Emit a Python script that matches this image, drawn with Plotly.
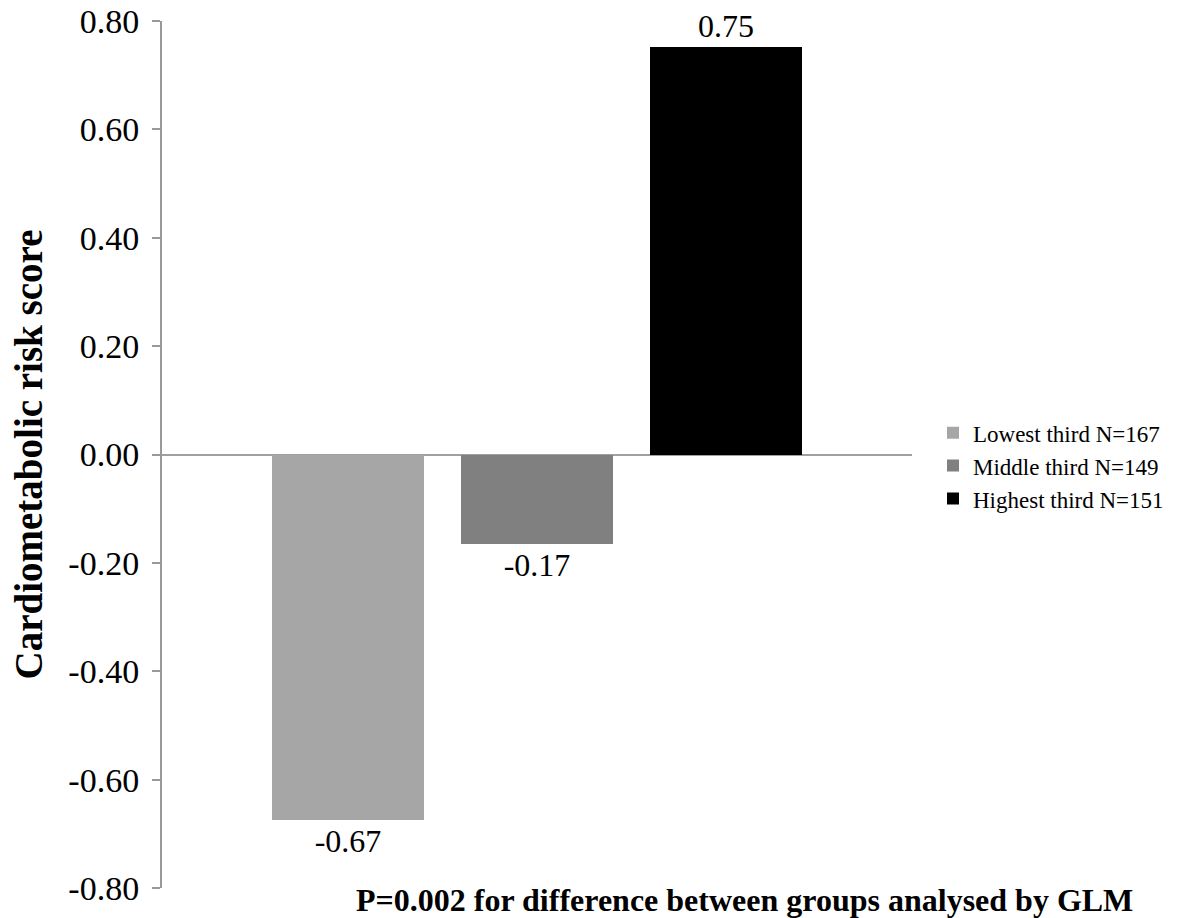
import plotly.graph_objects as go

groups = ["Lowest third N=167", "Middle third N=149", "Highest third N=151"]
values = [-0.675, -0.165, 0.752]
labels = ["-0.67", "-0.17", "0.75"]
colors = ["#A6A6A6", "#808080", "#000000"]
tick_vals = [-0.8, -0.6, -0.4, -0.2, 0.0, 0.2, 0.4, 0.6, 0.8]
tick_text = ["-0.80", "-0.60", "-0.40", "-0.20", "0.00", "0.20", "0.40", "0.60", "0.80"]

fig = go.Figure()
for i, (g, v, lab, c) in enumerate(zip(groups, values, labels, colors)):
    fig.add_trace(go.Bar(
        x=[i], y=[v], name=g, width=0.804,
        marker=dict(color=c, line=dict(width=0)),
        text=[lab], textposition="outside", cliponaxis=False,
        textfont=dict(family="Liberation Serif", size=32, color="black"),
    ))

fig.update_layout(
    width=1200, height=918,
    margin=dict(l=162, r=288, t=21, b=30, autoexpand=False),
    plot_bgcolor="white", paper_bgcolor="white",
    font=dict(family="Liberation Serif", color="black"),
    showlegend=True,
    legend=dict(x=1.028, y=0.487, xanchor="left", yanchor="middle",
                font=dict(family="Liberation Serif", size=23, color="black"),
                itemwidth=30),
    xaxis=dict(visible=False, range=[-0.985, 2.985], automargin=False),
    yaxis=dict(range=[-0.8, 0.8], tickvals=tick_vals, ticktext=tick_text,
               automargin=False,
               showgrid=False, showline=True, linecolor="#999999", linewidth=2,
               ticks="outside", ticklen=8, tickcolor="#999999", tickwidth=2,
               tickfont=dict(family="Liberation Serif", size=34, color="black"),
               ticklabelstandoff=6,
               zeroline=True, zerolinecolor="#A0A0A0", zerolinewidth=2,
               title=dict(text="<b>Cardiometabolic risk score</b>",
                          font=dict(family="Liberation Serif", size=39, color="black"),
                          standoff=14)),
    bargap=0,
)
fig.add_annotation(
    text="<b>P=0.002 for difference between groups analysed by GLM</b>",
    xref="paper", yref="paper", x=0.777, y=-0.014, xanchor="center", yanchor="middle",
    showarrow=False, font=dict(family="Liberation Serif", size=32, color="black"),
)
fig.write_html("out.html", config={"displayModeBar": False},
               post_script="document.body.style.margin='0';")
